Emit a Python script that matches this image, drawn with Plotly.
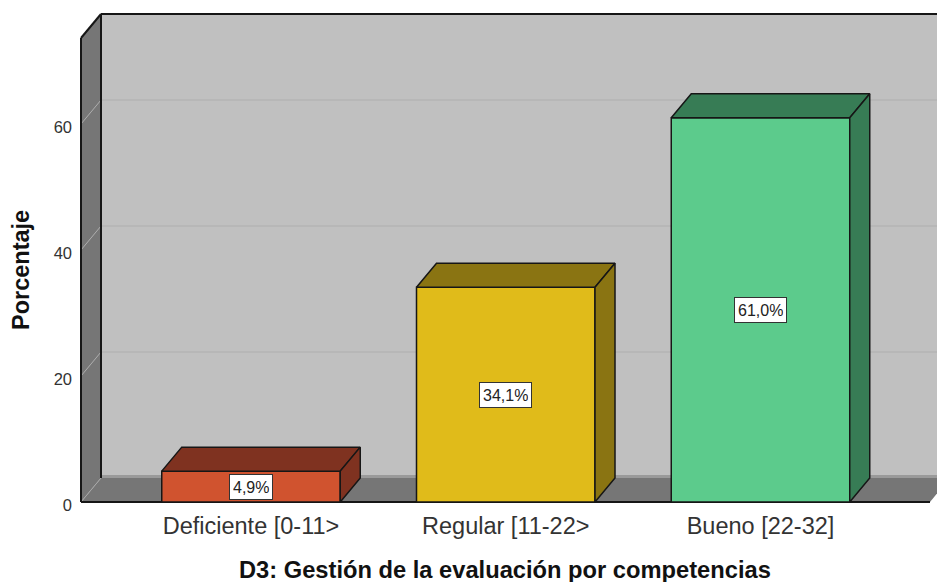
import plotly.graph_objects as go

categories = ["Deficiente [0-11>", "Regular [11-22>", "Bueno [22-32]"]
values = [4.9, 34.1, 61.0]
labels = ["4,9%", "34,1%", "61,0%"]
y_ticks = [0, 20, 40, 60]
front_colors = ["#d0532f", "#e0bb1a", "#5ccb8c"]
dark_colors = ["#7f3220", "#8a7412", "#377c55"]

W, H = 937, 582
PX_X = 254.75   # pixels per category
PX_Y = 6.3      # pixels per percent
X0, Y0 = 251, 502
BAR_W = 178.5 / PX_X
DX, DY = 20 / PX_X, 24 / PX_Y
L, R, T, B = 78, 937, 11, 505

def xd(p): return (p - X0) / PX_X
def yd(p): return (Y0 - p) / PX_Y

LEFT, TOP, RIGHT_F = xd(81), yd(38), xd(930)
EDGE = "#161616"

def path(pts):
    return "M " + " L ".join(f"{a},{b}" for a, b in pts) + " Z"

def poly(pts, fill, line=None, width=0):
    return dict(type="path", path=path(pts), xref="x", yref="y", layer="below",
                fillcolor=fill, line=dict(color=line or fill, width=width))

def seg(a, b, color, width):
    return dict(type="line", xref="x", yref="y", layer="below",
                x0=a[0], y0=a[1], x1=b[0], y1=b[1], line=dict(color=color, width=width))

FAR = RIGHT_F + DX
shapes = [
    poly([(LEFT + DX, DY), (LEFT + DX, TOP + DY), (FAR + 0.1, TOP + DY), (FAR + 0.1, DY)], "#c0c0c0"),
    poly([(LEFT, 0), (LEFT + DX, DY), (LEFT + DX, TOP + DY), (LEFT, TOP)], "#767676"),
    poly([(LEFT, 0), (RIGHT_F, 0), (FAR, DY), (LEFT + DX, DY)], "#767676"),
    seg((LEFT + DX, DY + 0.25), (FAR + 0.1, DY + 0.25), "#9a9a9a", 3),
]
for t in y_ticks[1:]:
    shapes.append(seg((LEFT + DX, t + DY), (FAR + 0.1, t + DY), "#aeaeae", 1))
    shapes.append(seg((LEFT, t), (LEFT + DX, t + DY), "#aeaeae", 1))
shapes += [
    seg((LEFT, 0), (LEFT + DX, DY), "#a8a8a8", 1),
    seg((LEFT, 0), (LEFT, TOP), EDGE, 2),
    seg((LEFT, TOP), (LEFT + DX, TOP + DY), EDGE, 2),
    seg((LEFT + DX, DY), (LEFT + DX, TOP + DY), EDGE, 2),
    seg((LEFT + DX, TOP + DY), (FAR + 0.1, TOP + DY), EDGE, 2),
    seg((LEFT, 0), (RIGHT_F, 0), EDGE, 2),
]

xs = list(range(len(categories)))
fig = go.Figure()
fig.add_trace(go.Bar(x=xs, y=values, width=BAR_W, marker=dict(color=front_colors, line=dict(color=EDGE, width=1.5)),
                     hoverinfo="skip", showlegend=False))

annotations = []
for i, v in enumerate(values):
    a, b = i - BAR_W / 2, i + BAR_W / 2
    fig.add_trace(go.Scatter(x=[a, b, b + DX, a + DX, a], y=[v, v, v + DY, v + DY, v], mode="lines", fill="toself",
                             fillcolor=dark_colors[i], line=dict(color=EDGE, width=1.5),
                             hoverinfo="skip", showlegend=False))
    fig.add_trace(go.Scatter(x=[b, b + DX, b + DX, b, b], y=[0, DY, v + DY, v, 0], mode="lines", fill="toself",
                             fillcolor=dark_colors[i], line=dict(color=EDGE, width=1.5),
                             hoverinfo="skip", showlegend=False))
    annotations.append(dict(x=i, y=v / 2, text=labels[i], showarrow=False, bgcolor="#ffffff", height=18,
                            bordercolor="#333333", borderwidth=1, borderpad=3,
                            font=dict(family="Liberation Sans", size=16, color="#222222")))

annotations.append(dict(text="Porcentaje", xref="paper", yref="y", x=0, xshift=-57, y=yd(270), textangle=-90,
                        showarrow=False, xanchor="center", yanchor="middle",
                        font=dict(family="Liberation Sans", size=23.5, color="#111111", weight="bold")))
annotations.append(dict(text="D3: Gestión de la evaluación por competencias", xref="x", yref="paper", x=xd(505), y=0,
                        yshift=-65, showarrow=False, xanchor="center", yanchor="middle",
                        font=dict(family="Liberation Sans", size=23.7, color="#111111", weight="bold")))

fig.update_layout(
    width=W, height=H, margin=dict(l=L, r=0, t=T, b=H - B, pad=0),
    paper_bgcolor="#ffffff", plot_bgcolor="#ffffff", shapes=shapes, annotations=annotations,
    xaxis=dict(range=[xd(L), xd(R)], tickvals=xs, ticktext=categories, showgrid=False, zeroline=False,
               showline=False, ticks="", ticklabelstandoff=4,
               tickfont=dict(family="Liberation Sans", size=23.5, color="#333333")),
    yaxis=dict(range=[yd(B), yd(T)], tickvals=y_ticks, showgrid=False, zeroline=False, showline=False,
               ticks="", ticklabelstandoff=5, ticklabelshift=3,
               tickfont=dict(family="Liberation Sans", size=16.5, color="#333333")),
)
fig.write_html("out.html", config={"displayModeBar": False},
               post_script="document.body.style.margin='0';document.documentElement.style.overflow='hidden';")
